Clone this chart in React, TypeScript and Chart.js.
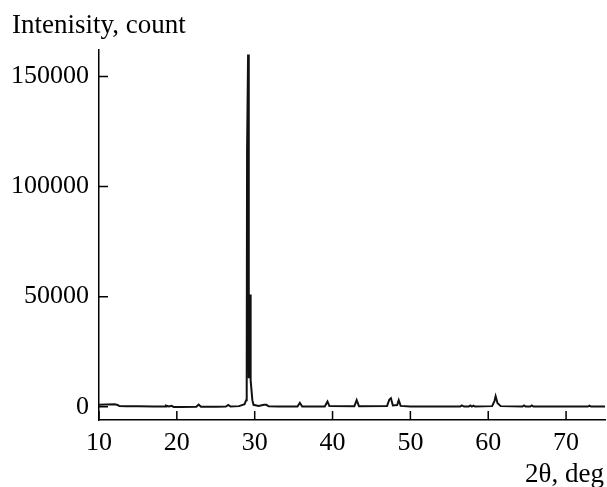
import React, { useEffect, useRef } from "react";
import { Chart, registerables } from "chart.js";

Chart.register(...registerables);

const twoTheta: number[] = [
  10.0, 11.0, 12.0, 12.4, 12.6, 13.5, 15.0, 17.0, 18.5, 18.6, 19.0, 19.3, 19.6, 20.5,
  22.5, 22.8, 23.1, 25.0, 26.3, 26.6, 26.9, 28.0, 28.7, 28.9, 28.95, 29.0, 29.02, 29.15,
  29.22, 29.26, 29.31, 29.36, 29.41, 29.46, 29.5, 29.7, 29.85, 30.5, 31.2, 31.5, 31.8,
  33.0, 35.5, 35.8, 36.1, 39.0, 39.35, 39.6, 42.8, 43.1, 43.4, 47.0, 47.3, 47.5, 47.75,
  48.3, 48.5, 48.75, 50.0, 56.4, 56.6, 56.9, 57.5, 57.7, 57.9, 58.1, 58.3, 60.5, 60.8,
  60.95, 61.2, 61.6, 64.4, 64.6, 64.8, 65.4, 65.6, 65.8, 72.8, 73.0, 73.2, 75.0,
];
const intensity: number[] = [
  900, 1000, 1100, 800, 300, 250, 200, 150, 100, 500, 100, 400, -100, -100,
  0, 1000, 0, 50, 100, 800, 100, 300, 1200, 3000, 13000, 13000, 116000, 160000,
  51000, 13000, 51000, 13000, 51000, 13000, 12000, 3000, 900, 400, 900, 900, 200,
  100, 100, 1800, 100, 100, 2400, 300, 200, 3000, 200, 300, 3300, 3900, 600,
  800, 3000, 400, 100, 100, 600, 100, 100, 600, 100, 500, 100, 300, 2600,
  4800, 1600, 300, 100, 600, 100, 100, 600, 100, 100, 500, 100, 100,
];
const xTicks: number[] = [10, 20, 30, 40, 50, 60, 70];
const yTicks: number[] = [0, 50000, 100000, 150000];
const yTitle = "Intenisity, count";
const xTitle = "2θ, deg";

const FONT = '"Liberation Serif", "Times New Roman", serif';

export default function App() {
  const ref = useRef<HTMLCanvasElement | null>(null);
  useEffect(() => {
    if (!ref.current) return;
    const decor = {
      id: "decor",
      afterDraw(chart: any) {
        const { ctx, chartArea } = chart;
        const xs = chart.scales.x;
        const ys = chart.scales.y;
        ctx.save();
        ctx.strokeStyle = "#000";
        ctx.lineWidth = 1.5;
        ctx.beginPath();
        xTicks.forEach((v) => {
          const px = xs.getPixelForValue(v);
          ctx.moveTo(px, chartArea.bottom);
          ctx.lineTo(px, chartArea.bottom - 9);
        });
        yTicks.forEach((v) => {
          const py = ys.getPixelForValue(v);
          ctx.moveTo(chartArea.left, py);
          ctx.lineTo(chartArea.left + 9, py);
        });
        ctx.stroke();
        ctx.fillStyle = "#000";
        ctx.font = `27px ${FONT}`;
        ctx.textBaseline = "alphabetic";
        ctx.textAlign = "left";
        ctx.fillText(yTitle, 12, 33);
        ctx.textAlign = "right";
        ctx.fillText(xTitle, 604, 482);
        ctx.restore();
      },
    };
    const chart = new Chart(ref.current, {
      type: "line",
      data: {
        datasets: [
          {
            data: twoTheta.map((x, i) => ({ x, y: intensity[i] })),
            borderColor: "#111",
            borderWidth: 2,
            pointRadius: 0,
            tension: 0,
            fill: false,
          },
        ],
      },
      options: {
        animation: false,
        responsive: false,
        maintainAspectRatio: false,
        layout: { padding: { top: 50, right: 2, left: 0, bottom: 0 } },
        plugins: { legend: { display: false }, tooltip: { enabled: false }, title: { display: false } },
        scales: {
          x: {
            type: "linear",
            min: 10,
            max: 75,
            afterBuildTicks: (s: any) => {
              s.ticks = xTicks.map((v) => ({ value: v }));
            },
            afterFit: (s: any) => {
              s.height = 67;
            },
            grid: { display: false, drawTicks: false },
            border: { display: true, color: "#000", width: 1.5 },
            ticks: {
              color: "#000",
              font: { family: FONT, size: 26 },
              padding: 8,
              maxRotation: 0,
              autoSkip: false,
              callback: (v: any) => String(v),
            },
          },
          y: {
            type: "linear",
            min: -6000,
            max: 162000,
            afterBuildTicks: (s: any) => {
              s.ticks = yTicks.map((v) => ({ value: v }));
            },
            afterFit: (s: any) => {
              s.width = 99;
            },
            grid: { display: false, drawTicks: false },
            border: { display: true, color: "#000", width: 1.5 },
            ticks: {
              color: "#000",
              font: { family: FONT, size: 26 },
              padding: 10,
              autoSkip: false,
              callback: (v: any) => String(v),
            },
          },
        },
      },
      plugins: [decor],
    });
    return () => chart.destroy();
  }, []);
  return (
    <div style={{ position: "absolute", left: 0, top: 0, width: 607, height: 487, background: "#fff" }}>
      <canvas ref={ref} width={607} height={487} style={{ display: "block" }} />
    </div>
  );
}
